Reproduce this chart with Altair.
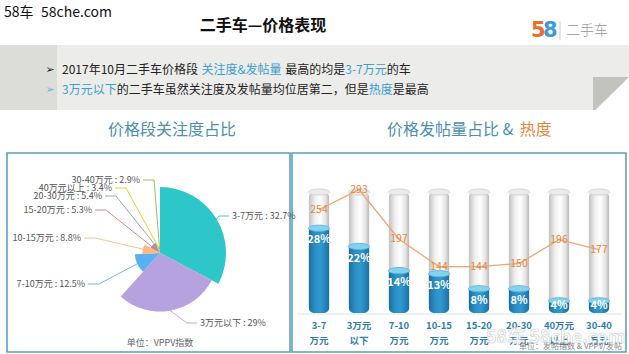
import math
import altair as alt
import pandas as pd

W, H = 629, 354
FONT = "Noto Sans CJK SC"

# ---------------- data ----------------
pie_cats = ["3-7万元", "3万元以下", "7-10万元", "10-15万元", "15-20万元", "20-30万元", "40万元以上", "30-40万元"]
pie_vals = [32.7, 29, 12.5, 8.8, 5.3, 5.4, 3.4, 2.9]
pie_colors = ["#2ec7c9", "#b6a2de", "#5ab1ef", "#ffb980", "#d87a80", "#8d98b3", "#e5cf0d", "#97b552"]

bar_top = ["3-7", "3万元", "7-10", "10-15", "15-20", "20-30", "40万元", "30-40"]
bar_bottom = ["万元", "以下", "万元", "万元", "万元", "万元", "以上", "万元"]
post_share = [28, 22, 14, 13, 8, 8, 4, 4]
heat = [254, 293, 197, 144, 144, 150, 196, 177]

# ---------------- layout ----------------
PIE_CX, PIE_CY, PIE_RMAX = 160, 253, 66
# label anchor (x, y, align) for each pie label
pie_label_pos = [(232, 216, "left"), (200, 323, "left"), (85, 284, "right"), (81, 238, "right"),
                 (92, 210, "right"), (102, 196, "right"), (112, 188, "right"), (140, 180, "right")]
BAR_RANGE = [299, 619]
BAR_Y = [313, 192]
HEAT_Y = [341, 186]

BLUE_HI = "#3d9dcc"
TXT = "#222222"
SUB = "#4a90b0"
ORANGE = "#e8863a"

DUMMY = alt.Data(values=[{"a": 1}])


def tw(s, fs):
    w = 0.0
    for c in s:
        if ord(c) >= 0x2E80 or c in "，：":
            w += fs
        elif c.isdigit():
            w += 0.553 * fs
        elif c == " ":
            w += 0.3 * fs
        elif c == "&":
            w += 0.69 * fs
        elif c == "-":
            w += 0.34 * fs
        else:
            w += 0.55 * fs
    return w


def txt(s, x, y, size=12, color=TXT, align="left", weight="normal", font=FONT, **kw):
    return alt.Chart(DUMMY).mark_text(text=s, align=align, baseline="middle", fontSize=size,
                                      color=color, fontWeight=weight, font=font, **kw).encode(
        x=alt.value(x), y=alt.value(y))


def rich(segs, x, y, size=12):
    out = []
    for s, col in segs:
        lead = len(s) - len(s.lstrip(" "))
        core = s.strip(" ")
        out.append(txt(core, x + tw(" " * lead, size), y, size=size, color=col))
        x += tw(s, size)
    return out


def rect(x, x2, y, y2, **kw):
    return alt.Chart(DUMMY).mark_rect(**kw).encode(
        x=alt.value(x), x2=alt.value(x2), y=alt.value(y), y2=alt.value(y2))


def shape(path, color):
    return alt.Chart(DUMMY).mark_point(shape=path, size=4, filled=True, color=color,
                                       opacity=1, strokeWidth=0).encode(
        x=alt.value(0), y=alt.value(0))


layers = []

# ---------- header ----------
layers += [
    txt("58车", 4, 13, size=14, color="#111"),
    txt("58che.com", 41, 13, size=14, color="#111"),
    txt("二手车—价格表现", 263, 26, size=16, weight="bold", align="center", color="#111"),
    txt("5", 531, 31, size=21, weight="bold", color="#f06a28", font="DejaVu Sans"),
    txt("8", 543, 31, size=21, weight="bold", color="#3b9ad9", font="DejaVu Sans"),
    alt.Chart(DUMMY).mark_rule(color="#cccccc", strokeWidth=1).encode(
        x=alt.value(560), y=alt.value(21), y2=alt.value(40)),
    txt("二手车", 566, 31, size=14, color="#9a9a9a", weight=300),
]

# ---------- grey band with folded corner ----------
layers += [
    rect(0, W, 45, 110, color="#ececea"),
    rect(0, 57, 45, 110, color="#dcdcd9"),
    shape("M629,77 L629,111 L595,111 Z", "#ffffff"),
    shape("M593,77 L629,77 L595,110 L593,110 Z", "#c2c2bf"),
]
layers += [txt("➢", 50, 70, size=11, color="#222", font="DejaVu Sans", align="center"),
           txt("➢", 50, 90, size=11, color="#6ab4d8", font="DejaVu Sans", align="center")]
layers += rich([("2017年10月二手车价格段 ", TXT), ("关注度&发帖量", BLUE_HI), (" 最高的均是", TXT),
                ("3-7万元", BLUE_HI), ("的车", TXT)], 62, 70)
layers += rich([("3万元以下", BLUE_HI), ("的二手车虽然关注度及发帖量均位居第二，但是", TXT),
                ("热度", BLUE_HI), ("是最高", TXT)], 62, 90)

# ---------- subtitles ----------
layers += [txt("价格段关注度占比", 172, 130, size=16, color=SUB, align="center")]
layers += rich([("价格发帖量占比 & ", SUB), ("热度", ORANGE)], 387, 130, size=16)

# ---------- frames ----------
layers += [
    rect(7, 290, 153, 352, fillOpacity=0, stroke="#5f9fc0", strokeWidth=1.6),
    rect(292, 626, 153, 352, fillOpacity=0, stroke="#5f9fc0", strokeWidth=1.6),
]

# ---------- rose pie ----------
pie_df = pd.DataFrame({"cat": pie_cats, "val": pie_vals, "idx": list(range(len(pie_cats))),
                       "col": pie_colors})
pie = alt.Chart(pie_df).mark_arc().encode(
    theta=alt.Theta("val:Q", stack=True),
    radius=alt.Radius("val:Q", scale=alt.Scale(type="linear", zero=True,
                                               domain=[0, max(pie_vals)], range=[0, PIE_RMAX])),
    color=alt.Color("col:N", scale=None),
    order=alt.Order("idx:Q"),
    x=alt.value(PIE_CX), y=alt.value(PIE_CY),
)
layers.append(pie)

# leader lines, derived from slice angles and radii
total = sum(pie_vals)
rows, lab_rows = [], []
cum = 0.0
for i, (c, v, col) in enumerate(zip(pie_cats, pie_vals, pie_colors)):
    a = (cum + v / 2) / total * 2 * math.pi
    cum += v
    r = v / max(pie_vals) * PIE_RMAX
    sx, sy = PIE_CX + r * math.sin(a), PIE_CY - r * math.cos(a)
    lx, ly, al = pie_label_pos[i]
    if al == "left":
        ex, elx = lx - 3, lx - 13
    else:
        ex, elx = lx + 3, lx + 14
    for k, (px_, py_) in enumerate([(sx, sy), (elx, ly), (ex, ly)]):
        rows.append({"i": i, "k": k, "x": px_, "y": py_, "col": col})
    lab_rows.append({"x": lx, "y": ly, "al": al, "t": f"{c} : {v:g}%"})
lead_df = pd.DataFrame(rows)
lab_df = pd.DataFrame(lab_rows)

PXS = alt.Scale(domain=[0, W], range=[0, W], nice=False, zero=False)
PYS = alt.Scale(domain=[0, H], range=[0, H], nice=False, zero=False)
layers.append(alt.Chart(lead_df).mark_line(strokeWidth=0.9).encode(
    x=alt.X("x:Q", scale=PXS, axis=None), y=alt.Y("y:Q", scale=PYS, axis=None),
    detail="i:N", order="k:Q", color=alt.Color("col:N", scale=None)))
for al in ["left", "right"]:
    layers.append(alt.Chart(lab_df[lab_df.al == al]).mark_text(
        align=al, baseline="middle", fontSize=9, color="#555555", font=FONT).encode(
        x=alt.X("x:Q", scale=PXS, axis=None), y=alt.Y("y:Q", scale=PYS, axis=None), text="t:N"))
layers.append(txt("单位：VPPV指数", 160, 343, size=9, color="#666666", align="center"))

# ---------- cylinders ----------
bar_df = pd.DataFrame({"cat": bar_top, "cat2": bar_bottom, "share": post_share, "heat": heat,
                       "idx": list(range(len(bar_top)))})
XB = alt.Scale(domain=bar_top, range=BAR_RANGE, paddingInner=0, paddingOuter=0)
YB = alt.Scale(domain=[0, 40], range=BAR_Y, nice=False, zero=True)
YH = alt.Scale(domain=[0, 300], range=HEAT_Y, nice=False, zero=True)
xb = alt.X("cat:N", scale=XB, axis=None)

grey_grad = alt.Gradient(gradient="linear", x1=0, x2=1, y1=0, y2=0, stops=[
    alt.GradientStop(color="#bdbdbd", offset=0), alt.GradientStop(color="#eeeeee", offset=0.3),
    alt.GradientStop(color="#ffffff", offset=0.55), alt.GradientStop(color="#e6e6e6", offset=0.8),
    alt.GradientStop(color="#b5b5b5", offset=1)])
blue_grad = alt.Gradient(gradient="linear", x1=0, x2=1, y1=0, y2=0, stops=[
    alt.GradientStop(color="#1a6a9a", offset=0), alt.GradientStop(color="#2a8fc5", offset=0.3),
    alt.GradientStop(color="#3099cf", offset=0.6), alt.GradientStop(color="#1c6e9f", offset=1)])
ELL = "M-1,0 A1,0.3 0 1,0 1,0 A1,0.3 0 1,0 -1,0 Z"

base = alt.Chart(bar_df).transform_calculate(full="40", lab="max(datum.share - 4, 2.2)",
                                             pct="datum.share + '%'")
layers += [
    alt.Chart(DUMMY).mark_rule(color="#e2e2e2", strokeWidth=1).encode(
        x=alt.value(297), x2=alt.value(622), y=alt.value(314)),
    base.mark_bar(size=21, color=grey_grad, cornerRadiusTopLeft=6, cornerRadiusTopRight=6,
                  cornerRadiusBottomLeft=6, cornerRadiusBottomRight=6).encode(
        x=xb, y=alt.Y("full:Q", scale=YB, axis=None)),
    base.mark_point(shape=ELL, size=441, filled=True, color="#ebebeb", stroke="#d2d2d2",
                    strokeWidth=0.8, opacity=1).encode(x=xb, y=alt.Y("full:Q", scale=YB, axis=None)),
    base.mark_bar(size=21, color=blue_grad, cornerRadiusBottomLeft=6,
                  cornerRadiusBottomRight=6).encode(
        x=xb, y=alt.Y("share:Q", scale=YB, axis=None)),
    base.mark_point(shape=ELL, size=441, filled=True, color="#86d2ee", stroke="#4fb2db",
                    strokeWidth=0.8, opacity=1).encode(x=xb, y=alt.Y("share:Q", scale=YB, axis=None)),
    base.mark_text(color="#ffffff", fontSize=11, fontWeight="bold", font=FONT,
                   baseline="middle").encode(
        x=xb, y=alt.Y("lab:Q", scale=YB, axis=None), text="pct:N"),
    base.mark_line(color="#f3a46f", strokeWidth=1.3).encode(
        x=xb, y=alt.Y("heat:Q", scale=YH, axis=None), order="idx:Q"),
    base.mark_text(color=ORANGE, fontSize=10.5, font=FONT, baseline="middle").encode(
        x=xb, y=alt.Y("heat:Q", scale=YH, axis=None), text="heat:Q"),
    base.mark_text(color="#2e7eb1", fontSize=9.5, fontWeight="bold", font=FONT,
                   baseline="middle").encode(x=xb, y=alt.value(326), text="cat:N"),
    base.mark_text(color="#2e7eb1", fontSize=9.5, fontWeight="bold", font=FONT,
                   baseline="middle").encode(x=xb, y=alt.value(341), text="cat2:N"),
]

# ---------- watermark / unit ----------
layers += [
    txt("58车  58che.com", 486, 338, size=18, color="#ffffff", weight="bold",
        stroke="#c4c4c4", strokeWidth=0.6, opacity=0.85),
    txt("单位：发帖指数 & VPPV/发帖", 622, 347, size=8, color="#888888", align="right"),
]

chart = alt.layer(*layers).properties(
    width=W, height=H, autosize=alt.AutoSizeParams(type="none"), padding=0,
    background="#ffffff",
).resolve_scale(x="independent", y="independent", color="independent",
                theta="independent", radius="independent").configure_view(stroke=None)

chart.save("out.html", embed_options={"renderer": "svg", "actions": False})
